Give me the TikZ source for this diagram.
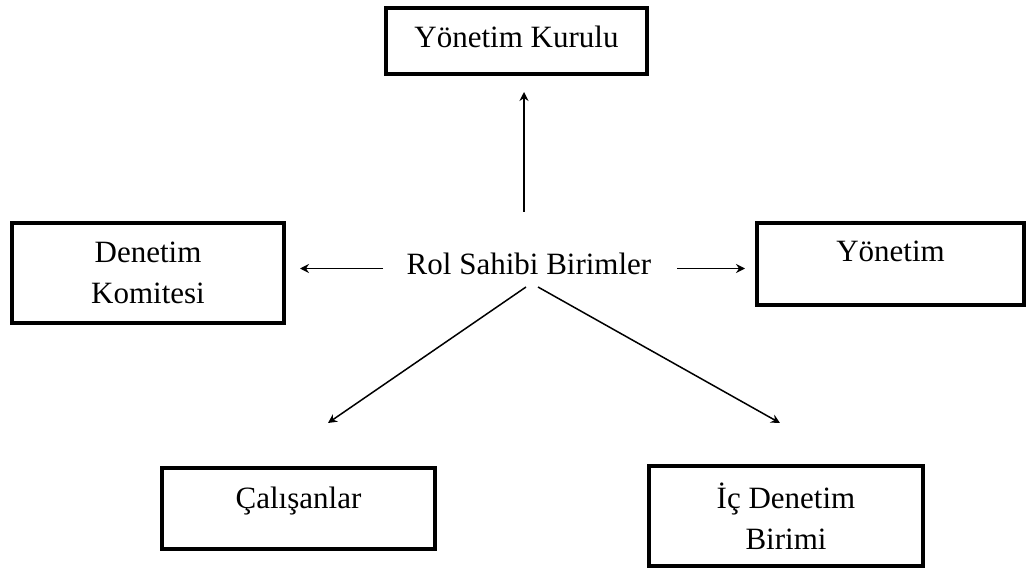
\documentclass[tikz,border=0pt]{standalone}
\usepackage{fontspec}
\setmainfont{Liberation Serif}
\usetikzlibrary{arrows.meta}

\begin{document}
\begin{tikzpicture}[x=0.5pt, y=-0.5pt,
            font=\fontsize{15.5}{20.5}\selectfont,
            box/.style={draw, line width=2pt, inner sep=0pt, align=center},
            arr/.style={-{Stealth[length=4.5pt, width=4.5pt, inset=1.5pt]}, line width=0.75pt}]
            \useasboundingbox (0,0) rectangle (1028,572);

            \node[box, minimum width=130.5pt, minimum height=33pt, text height=10.5pt, text depth=4.5pt] (kurulu) at (516.5,41.5) {Yönetim Kurulu};
            \node[box, minimum width=136pt, minimum height=50pt] (komite) at (148,273) {Denetim\\Komitesi};
            \node[box, minimum width=133.5pt, minimum height=41pt, text height=10pt, text depth=12pt] (yonetim) at (890.5,264) {Yönetim};
            \node[box, minimum width=136.5pt, minimum height=40.5pt, text height=10pt, text depth=10.5pt] (calisan) at (298.5,508.5) {Çalışanlar};
            \node[box, minimum width=137pt, minimum height=50pt] (icdenetim) at (786,516) {İç Denetim\\Birimi};
            \node[inner sep=0pt, anchor=base] (rol) at (529,275) {Rol Sahibi Birimler};

            \draw[arr] ([shift={(-2.5pt,31.5pt)}]rol.base) -- ([shift={(3.75pt,-7.75pt)}]kurulu.south);
            \draw[arr] ([shift={(-73pt,3.25pt)}]rol.base) -- ([shift={(7pt,2.25pt)}]komite.east);
            \draw[arr] ([shift={(74pt,3.25pt)}]rol.base) -- ([shift={(-5pt,-2.25pt)}]yonetim.west);
            \draw[arr] ([shift={(-1.5pt,-6pt)}]rol.base) -- ([shift={(14.75pt,21.5pt)}]calisan.north);
            \draw[arr] ([shift={(4.5pt,-6pt)}]rol.base) -- ([shift={(-3pt,20.5pt)}]icdenetim.north);
\end{tikzpicture}
\end{document}
